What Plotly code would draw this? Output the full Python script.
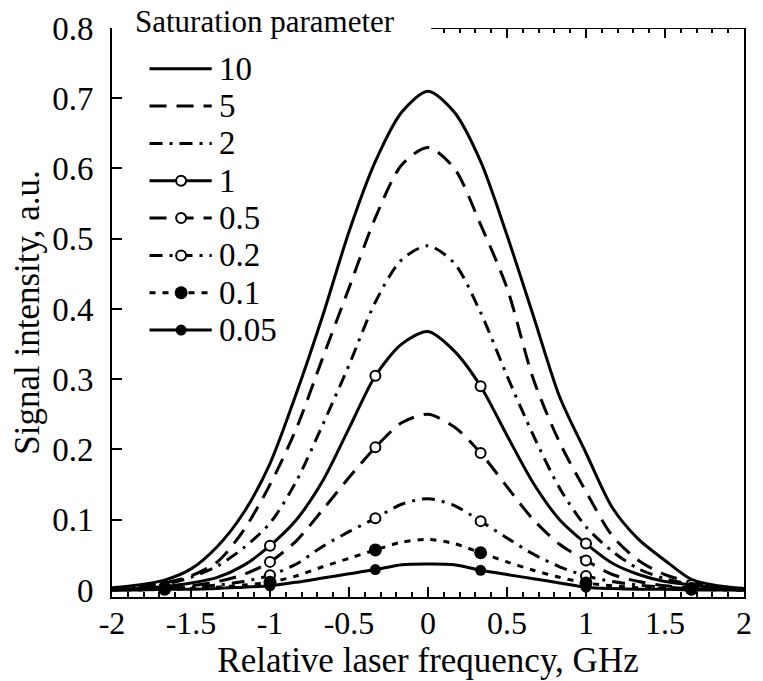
import plotly.graph_objects as go

# Relative laser frequency grid, GHz (sampled every 1/6 GHz)
freq = [-2.0, -1.833, -1.667, -1.5, -1.333, -1.167, -1.0, -0.833, -0.667, -0.5,
        -0.333, -0.167, 0.0, 0.167, 0.333, 0.5, 0.667, 0.833, 1.0, 1.167,
        1.333, 1.5, 1.667, 1.833, 2.0]

# Signal intensity (a.u.) for each saturation parameter
sig_10 = [0.003, 0.007, 0.014, 0.030, 0.062, 0.110, 0.180, 0.280, 0.390, 0.510,
          0.610, 0.680, 0.710, 0.680, 0.610, 0.505, 0.390, 0.275, 0.195, 0.117,
          0.072, 0.042, 0.015, 0.006, 0.002]
sig_5 = [0.002, 0.005, 0.010, 0.020, 0.040, 0.085, 0.150, 0.230, 0.330, 0.430,
         0.530, 0.605, 0.630, 0.600, 0.520, 0.430, 0.300, 0.210, 0.140, 0.077,
         0.042, 0.022, 0.011, 0.005, 0.002]
sig_2 = [0.001, 0.004, 0.008, 0.018, 0.034, 0.060, 0.095, 0.155, 0.235, 0.320,
         0.410, 0.470, 0.490, 0.465, 0.395, 0.305, 0.220, 0.145, 0.090, 0.055,
         0.030, 0.016, 0.008, 0.003, 0.001]
sig_1 = [0.001, 0.002, 0.005, 0.010, 0.018, 0.035, 0.063, 0.100, 0.155, 0.230,
         0.305, 0.350, 0.368, 0.340, 0.290, 0.220, 0.152, 0.100, 0.066, 0.038,
         0.022, 0.012, 0.007, 0.003, 0.001]
sig_05 = [0.000, 0.001, 0.003, 0.006, 0.012, 0.022, 0.040, 0.070, 0.114, 0.160,
          0.203, 0.238, 0.250, 0.232, 0.195, 0.147, 0.100, 0.065, 0.042, 0.022,
          0.012, 0.006, 0.003, 0.001, 0.000]
sig_02 = [0.000, 0.001, 0.002, 0.004, 0.007, 0.012, 0.021, 0.037, 0.062, 0.083,
          0.102, 0.122, 0.130, 0.120, 0.098, 0.074, 0.051, 0.033, 0.020, 0.012,
          0.007, 0.004, 0.002, 0.001, 0.000]
sig_01 = [0.000, 0.000, 0.001, 0.002, 0.004, 0.007, 0.011, 0.020, 0.033, 0.045,
          0.057, 0.068, 0.072, 0.066, 0.053, 0.040, 0.028, 0.018, 0.010, 0.006,
          0.003, 0.002, 0.001, 0.000, 0.000]
sig_005 = [0.000, 0.000, 0.001, 0.001, 0.002, 0.004, 0.006, 0.011, 0.017, 0.023,
           0.029, 0.036, 0.037, 0.036, 0.028, 0.022, 0.016, 0.010, 0.004, 0.002,
           0.001, 0.001, 0.000, 0.000, 0.000]

# Grid indices that carry a symbol (every 2/3 GHz: +-1/3, +-1, +-5/3)
marker_idx = [2, 6, 10, 14, 18, 22]

x_tickvals = [-2, -1.5, -1, -0.5, 0, 0.5, 1, 1.5, 2]
x_ticktext = ["-2", "-1.5", "-1", "-0.5", "0", "0.5", "1", "1.5", "2"]
y_tickvals = [0, 0.1, 0.2, 0.3, 0.4, 0.5, 0.6, 0.7, 0.8]
y_ticktext = ["0", "0.1", "0.2", "0.3", "0.4", "0.5", "0.6", "0.7", "0.8"]

LONG_DASH = "17px,10px"
DASH_DOT = "13px,7px,3px,7px"
DOTTED = "6px,7px"

# label, values, dash, symbol style, symbol size
series = [
    ("10", sig_10, "solid", None, 0),
    ("5", sig_5, LONG_DASH, None, 0),
    ("2", sig_2, DASH_DOT, None, 0),
    ("1", sig_1, "solid", "open", 10),
    ("0.5", sig_05, LONG_DASH, "open", 10),
    ("0.2", sig_02, DASH_DOT, "open", 10),
    ("0.1", sig_01, DOTTED, "filled", 13),
    ("0.05", sig_005, "solid", "filled", 11),
]

FONT = "Liberation Serif"
W, H = 763, 681
ML, MR, MT, MB = 112, 11, 28, 80
PW, PH = W - ML - MR, H - MT - MB


def px_to_paper(px, py):
    return (px - ML) / PW, (H - MB - py) / PH


def marker_style(kind, size):
    if kind == "open":
        return dict(symbol="circle", size=size, color="white",
                    line=dict(color="black", width=2))
    return dict(symbol="circle", size=size, color="black",
                line=dict(color="black", width=0))


fig = go.Figure()

for label, vals, dash, kind, msize in series:
    fig.add_trace(go.Scatter(
        x=freq, y=vals, mode="lines", name=label, showlegend=False,
        line=dict(color="black", width=3, dash=dash, shape="spline", smoothing=0.8),
    ))
    if kind:
        fig.add_trace(go.Scatter(
            x=[freq[i] for i in marker_idx], y=[vals[i] for i in marker_idx],
            mode="markers", showlegend=False, marker=marker_style(kind, msize),
        ))

# Key: one row per saturation parameter, sample line with symbol + label
shapes = []
annotations = []
row0_y, row_step = 69, 37.6
key_x0, key_x1, key_mid, text_x = 150, 213, 182, 218
for k, (label, vals, dash, kind, msize) in enumerate(series):
    py = row0_y + k * row_step
    xa, ya = px_to_paper(key_x0, py)
    xb, _ = px_to_paper(key_x1, py)
    shapes.append(dict(type="line", xref="paper", yref="paper", x0=xa, x1=xb,
                       y0=ya, y1=ya, line=dict(color="black", width=3, dash=dash)))
    if kind:
        xm, _ = px_to_paper(key_mid, py)
        r = msize / 2
        shapes.append(dict(type="circle", xref="paper", yref="paper",
                           xsizemode="pixel", ysizemode="pixel",
                           xanchor=xm, yanchor=ya, x0=-r, x1=r, y0=-r, y1=r,
                           fillcolor="white" if kind == "open" else "black",
                           line=dict(color="black", width=2 if kind == "open" else 0)))
    xt, _ = px_to_paper(text_x, py)
    annotations.append(dict(x=xt, y=ya, xref="paper", yref="paper", text=label,
                            showarrow=False, xanchor="left", yanchor="middle",
                            font=dict(family=FONT, size=33, color="black")))

tx, ty = px_to_paper(267, 21)
annotations.append(dict(x=tx, y=ty, xref="paper", yref="paper",
                        text="Saturation parameter", showarrow=False,
                        xanchor="center", yanchor="middle",
                        font=dict(family=FONT, size=31, color="black")))

# Top frame segment (left part of the top edge is left open for the key title)
shapes.append(dict(type="line", xref="x", yref="y", x0=0.02, x1=2, y0=0.8, y1=0.8,
                   line=dict(color="black", width=2)))

fig.update_layout(
    width=W, height=H,
    margin=dict(l=ML, r=MR, t=MT, b=MB),
    paper_bgcolor="white", plot_bgcolor="white",
    font=dict(family=FONT, color="black"),
    shapes=shapes, annotations=annotations,
    xaxis=dict(
        range=[-2, 2], showgrid=False, zeroline=False,
        showline=True, linecolor="black", linewidth=2, mirror=False,
        ticks="inside", ticklen=10, tickwidth=1.5, tickcolor="black",
        tickvals=x_tickvals, ticktext=x_ticktext,
        tickfont=dict(family=FONT, size=32), ticklabelstandoff=-3,
        minor=dict(dtick=0.1, tick0=0, ticks="inside", ticklen=5,
                   tickwidth=1.5, tickcolor="black", showgrid=False),
        title=dict(text="Relative laser frequency, GHz",
                   font=dict(family=FONT, size=35), standoff=4),
    ),
    xaxis2=dict(
        overlaying="x", side="top", range=[-2, 2], showgrid=False, zeroline=False,
        showline=False, showticklabels=False,
        ticks="inside", ticklen=10, tickwidth=1.5, tickcolor="black",
        tickmode="array", tickvals=[0.5, 1, 1.5, 2],
        minor=dict(tickmode="array",
                   tickvals=[0.1, 0.2, 0.3, 0.4, 0.6, 0.7, 0.8, 0.9, 1.1, 1.2,
                             1.3, 1.4, 1.6, 1.7, 1.8, 1.9],
                   ticks="inside", ticklen=5, tickwidth=1.5, tickcolor="black"),
    ),
    yaxis=dict(
        range=[-0.01, 0.8], showgrid=False, zeroline=False,
        showline=True, linecolor="black", linewidth=2, mirror=True,
        ticks="inside", ticklen=10, tickwidth=1.5, tickcolor="black",
        tickvals=y_tickvals, ticktext=y_ticktext,
        tickfont=dict(family=FONT, size=33), ticklabelstandoff=10,
        title=dict(text="Signal intensity, a.u.",
                   font=dict(family=FONT, size=35), standoff=2),
    ),
)

fig.add_trace(go.Scatter(x=[None], y=[None], xaxis="x2", mode="lines",
                         showlegend=False, hoverinfo="skip"))

fig.write_html("out.html")
